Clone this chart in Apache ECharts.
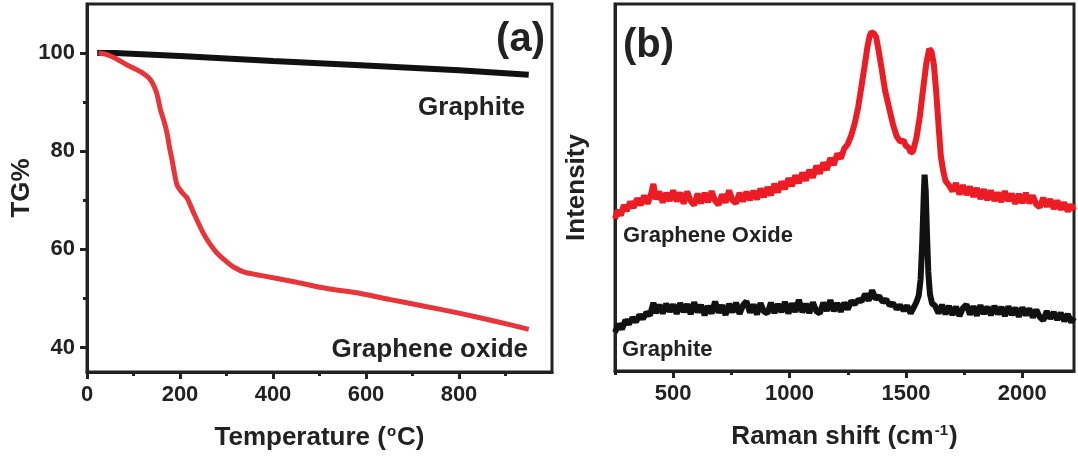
<!DOCTYPE html>
<html>
<head>
	<meta charset="utf-8">
	<title>TG and Raman</title>
	<script src="https://cdn.jsdelivr.net/npm/echarts@6/dist/echarts.min.js"></script>
	<style>
		body { margin: 0; background: #fff; }
	</style>
</head>
<body>
	<div id="main" style="width: 1078px;height: 464px"></div>
	<script type="text/javascript">
		// (a) TG curves
		var graphiteTemp = [22, 60, 200, 400, 610, 800, 950];
		var graphiteTG = [100, 100, 99.4, 98.4, 97.4, 96.5, 95.6];
		var goTemp = [25, 43, 60, 86, 115, 136, 150, 158, 166, 172, 178, 183, 188, 194, 205, 215, 230, 250, 265, 280, 300, 315, 340, 373, 445, 517, 588, 650, 720, 800, 880, 950];
		var goTG = [100, 99.7, 99.0, 97.6, 96.2, 94.6, 91.8, 88.4, 86, 83.7, 80.5, 78.2, 75.5, 73.0, 71.5, 70.5, 67.3, 63.3, 61, 59.2, 57.5, 56.4, 55.3, 54.7, 53.4, 52.0, 51.0, 49.8, 48.5, 47.0, 45.3, 43.7];
		var tgTicks = [40, 60, 80, 100];
		var tgMinor = [50, 70, 90];
		var tempTicks = [0, 200, 400, 600, 800];
		var tempMinor = [100, 300, 500, 700, 900];

		// (b) Raman spectra
		var goShift = [250, 262, 275, 288, 300, 315, 330, 345, 360, 375, 390, 405, 415, 425, 440, 455, 470, 485, 500, 515, 530, 545, 560, 575, 590, 605, 620, 635, 650, 665, 680, 695, 710, 725, 740, 755, 770, 785, 800, 815, 830, 845, 860, 875, 890, 905, 920, 935, 950, 965, 980, 995, 1010, 1025, 1040, 1055, 1070, 1085, 1100, 1115, 1130, 1145, 1160, 1175, 1190, 1205, 1220, 1235, 1250, 1265, 1280, 1295, 1310, 1322, 1335, 1345, 1352, 1362, 1372, 1382, 1394, 1410, 1430, 1445, 1460, 1475, 1490, 1500, 1510, 1520, 1530, 1545, 1560, 1575, 1588, 1600, 1610, 1620, 1630, 1640, 1650, 1660, 1670, 1685, 1700, 1715, 1730, 1745, 1760, 1775, 1790, 1805, 1820, 1835, 1850, 1865, 1880, 1895, 1910, 1925, 1940, 1955, 1970, 1985, 2000, 2015, 2030, 2045, 2060, 2075, 2090, 2105, 2120, 2135, 2150, 2165, 2180, 2195, 2210, 2222];
		var goIntensity = [41.5, 43.8, 42.4, 45.2, 43.6, 46.1, 44.5, 47.0, 45.2, 47.8, 45.6, 48.2, 51.0, 46.8, 48.9, 45.9, 48.5, 46.4, 49.2, 46.2, 48.6, 45.6, 48.9, 46.3, 45.2, 48.3, 45.7, 48.5, 46.0, 49.0, 46.4, 45.3, 48.1, 45.9, 49.2, 46.5, 45.7, 48.5, 46.2, 48.8, 46.6, 49.1, 46.8, 49.7, 47.4, 50.1, 47.9, 51.0, 48.7, 51.6, 49.6, 52.5, 50.4, 53.3, 51.2, 54.0, 51.9, 54.8, 52.7, 55.9, 53.8, 56.8, 54.8, 58.0, 56.2, 59.2, 57.9, 60.6, 61.8, 64.2, 67.5, 72.0, 78.0, 83.0, 88.5, 91.5, 92.3, 92.0, 91.0, 87.5, 83.0, 76.5, 71.0, 67.0, 64.0, 62.5, 62.8, 61.3, 61.0, 59.6, 59.8, 63.5, 69.5, 77.5, 84.0, 87.8, 87.0, 83.5, 76.0, 67.0, 58.5, 54.5, 51.8, 50.6, 49.0, 51.2, 48.1, 50.6, 48.0, 50.2, 47.5, 49.8, 46.9, 49.5, 46.6, 49.2, 46.4, 48.6, 46.1, 49.0, 46.3, 48.3, 45.6, 48.2, 45.8, 48.5, 45.7, 47.8, 45.4, 44.6, 47.2, 44.8, 46.8, 44.2, 46.4, 44.0, 45.9, 43.5, 45.3, 43.8];
		var grShift = [250, 265, 280, 295, 310, 325, 340, 355, 370, 385, 400, 415, 425, 440, 455, 470, 485, 500, 515, 530, 545, 560, 575, 590, 605, 620, 635, 650, 665, 680, 695, 710, 725, 740, 755, 770, 785, 800, 815, 830, 845, 860, 875, 890, 905, 920, 935, 950, 965, 980, 995, 1010, 1025, 1040, 1055, 1070, 1085, 1100, 1115, 1130, 1145, 1160, 1175, 1190, 1205, 1220, 1235, 1250, 1265, 1280, 1295, 1310, 1325, 1340, 1355, 1370, 1385, 1400, 1415, 1430, 1445, 1460, 1475, 1490, 1505, 1520, 1535, 1545, 1555, 1563, 1570, 1576, 1580, 1585, 1590, 1596, 1603, 1612, 1625, 1640, 1655, 1670, 1685, 1700, 1715, 1730, 1745, 1760, 1775, 1790, 1805, 1820, 1835, 1850, 1865, 1880, 1895, 1910, 1925, 1940, 1955, 1970, 1985, 2000, 2015, 2030, 2045, 2060, 2075, 2090, 2105, 2120, 2135, 2150, 2165, 2180, 2195, 2210, 2222];
		var grIntensity = [10.5, 12.8, 11.4, 13.9, 12.8, 14.5, 13.4, 15.3, 14.2, 16.0, 15.1, 18.6, 15.8, 18.0, 15.7, 18.3, 16.2, 18.1, 15.6, 18.5, 16.1, 18.2, 15.5, 18.7, 16.0, 18.0, 15.2, 17.7, 15.7, 18.9, 15.9, 17.9, 15.3, 18.3, 16.0, 18.6, 15.6, 17.9, 19.0, 15.9, 18.1, 15.4, 18.5, 16.2, 15.7, 18.6, 15.8, 18.2, 16.1, 18.8, 15.7, 18.4, 16.1, 19.4, 16.0, 18.3, 15.8, 18.7, 16.3, 15.7, 18.6, 16.4, 19.3, 16.3, 18.5, 16.2, 18.6, 16.8, 19.1, 18.2, 19.4, 19.0, 21.0, 19.2, 22.0, 19.6, 20.4, 18.8, 19.5, 17.9, 18.4, 16.9, 17.9, 16.5, 17.8, 15.7, 17.5, 18.8, 20.6, 25, 35, 47, 53.5, 49, 38, 27, 21, 18.4, 17.8, 15.7, 18.0, 15.5, 17.7, 15.3, 17.5, 15.0, 17.2, 18.1, 15.4, 17.6, 15.1, 17.9, 15.6, 17.5, 15.2, 17.7, 15.5, 17.4, 15.0, 17.6, 15.3, 17.2, 14.8, 17.3, 15.2, 17.0, 14.6, 16.7, 14.7, 13.8, 16.3, 14.3, 16.0, 14.0, 15.8, 13.6, 15.5, 13.3, 14.6];
		var shiftTicks = [500, 1000, 1500, 2000];
		var shiftMinor = [250, 750, 1250, 1750];

		function zip(xs, ys) {
			return xs.map(function (x, i) { return [x, ys[i]]; });
		}
		function plain(v) {
			return String(v);
		}

		var ink = '#222';
		var tickFont = {fontSize: 22, fontWeight: 'bold', color: ink, fontFamily: 'Liberation Sans', formatter: plain};
		var nameFont = {
			fontSize: 26, fontWeight: 'bold', color: ink, fontFamily: 'Liberation Sans',
			rich: {
				sup: {fontSize: 15, fontWeight: 'bold', color: ink, fontFamily: 'Liberation Sans', verticalAlign: 'top', padding: [0, 1, 12, 1]}
			}
		};
		var axisLine = {show: true, lineStyle: {color: ink, width: 3}};

		var myChart = echarts.init(document.getElementById('main'));
		var option = {
			animation: false,
			backgroundColor: '#fff',
			grid: [
				{left: 87, top: 4, width: 465, height: 368, show: true, borderColor: ink, borderWidth: 3},
				{left: 615, top: 4, width: 459, height: 367, show: true, borderColor: ink, borderWidth: 3}
			],
			xAxis: [
				{
					type: 'value', gridIndex: 0, min: 0, max: 1000,
					name: 'Temperature ({sup|o}C)', nameLocation: 'middle', nameGap: 52, nameTextStyle: nameFont,
					axisLine: axisLine, splitLine: {show: false},
					axisTick: {show: true, length: 7, lineStyle: {color: ink, width: 3}, customValues: tempTicks},
					axisLabel: Object.assign({margin: 12, customValues: tempTicks}, tickFont)
				},
				{
					type: 'value', gridIndex: 0, min: 0, max: 1000, position: 'bottom',
					axisLine: {show: false}, splitLine: {show: false}, axisLabel: {show: false},
					axisTick: {show: true, length: 4, lineStyle: {color: ink, width: 3}, customValues: tempMinor}
				},
				{
					type: 'value', gridIndex: 1, min: 250, max: 2222,
					name: 'Raman shift (cm{sup|-1})', nameLocation: 'middle', nameGap: 52, nameTextStyle: nameFont,
					axisLine: axisLine, splitLine: {show: false},
					axisTick: {show: true, length: 7, lineStyle: {color: ink, width: 3}, customValues: shiftTicks},
					axisLabel: Object.assign({margin: 12, customValues: shiftTicks}, tickFont)
				},
				{
					type: 'value', gridIndex: 1, min: 250, max: 2222, position: 'bottom',
					axisLine: {show: false}, splitLine: {show: false}, axisLabel: {show: false},
					axisTick: {show: true, length: 4, lineStyle: {color: ink, width: 3}, customValues: shiftMinor}
				}
			],
			yAxis: [
				{
					type: 'value', gridIndex: 0, min: 35, max: 110,
					name: 'TG%', nameLocation: 'middle', nameGap: 52, nameTextStyle: nameFont,
					axisLine: axisLine, splitLine: {show: false},
					axisTick: {show: true, length: 7, lineStyle: {color: ink, width: 3}, customValues: tgTicks},
					axisLabel: Object.assign({margin: 12, customValues: tgTicks}, tickFont)
				},
				{
					type: 'value', gridIndex: 0, min: 35, max: 110, position: 'left',
					axisLine: {show: false}, splitLine: {show: false}, axisLabel: {show: false},
					axisTick: {show: true, length: 4, lineStyle: {color: ink, width: 3}, customValues: tgMinor}
				},
				{
					type: 'value', gridIndex: 1, min: 0, max: 100,
					name: 'Intensity', nameLocation: 'middle', nameGap: 25, nameTextStyle: nameFont,
					axisLine: axisLine, splitLine: {show: false},
					axisTick: {show: false}, axisLabel: {show: false}
				}
			],
			series: [
				{
					name: 'Graphite TG', type: 'line', xAxisIndex: 0, yAxisIndex: 0,
					data: zip(graphiteTemp, graphiteTG), showSymbol: false,
					lineStyle: {color: '#111', width: 6}
				},
				{
					name: 'Graphene oxide TG', type: 'line', xAxisIndex: 0, yAxisIndex: 0,
					data: zip(goTemp, goTG), showSymbol: false, smooth: 0.2,
					lineStyle: {color: '#e8353a', width: 5}
				},
				{
					name: 'Graphene Oxide', type: 'line', xAxisIndex: 2, yAxisIndex: 2,
					data: zip(goShift, goIntensity), showSymbol: false,
					lineStyle: {color: '#ec1c24', width: 6}
				},
				{
					name: 'Graphite', type: 'line', xAxisIndex: 2, yAxisIndex: 2,
					data: zip(grShift, grIntensity), showSymbol: false,
					lineStyle: {color: '#111', width: 6}
				}
			],
			graphic: [
				{type: 'text', style: {text: '(a)', x: 545, y: 40, textAlign: 'right', textVerticalAlign: 'middle', font: 'bold 40px "Liberation Sans"', fill: ink}},
				{type: 'text', style: {text: '(b)', x: 623, y: 46, textAlign: 'left', textVerticalAlign: 'middle', font: 'bold 40px "Liberation Sans"', fill: ink}},
				{type: 'text', style: {text: 'Graphite', x: 525, y: 108, textAlign: 'right', textVerticalAlign: 'middle', font: 'bold 26px "Liberation Sans"', fill: ink}},
				{type: 'text', style: {text: 'Graphene oxide', x: 528, y: 350, textAlign: 'right', textVerticalAlign: 'middle', font: 'bold 26px "Liberation Sans"', fill: ink}},
				{type: 'text', style: {text: 'Graphene Oxide', x: 623, y: 236, textAlign: 'left', textVerticalAlign: 'middle', font: 'bold 22px "Liberation Sans"', fill: ink}},
				{type: 'text', style: {text: 'Graphite', x: 622, y: 350, textAlign: 'left', textVerticalAlign: 'middle', font: 'bold 22px "Liberation Sans"', fill: ink}}
			]
		};
		myChart.setOption(option);
	</script>
</body>
</html>
